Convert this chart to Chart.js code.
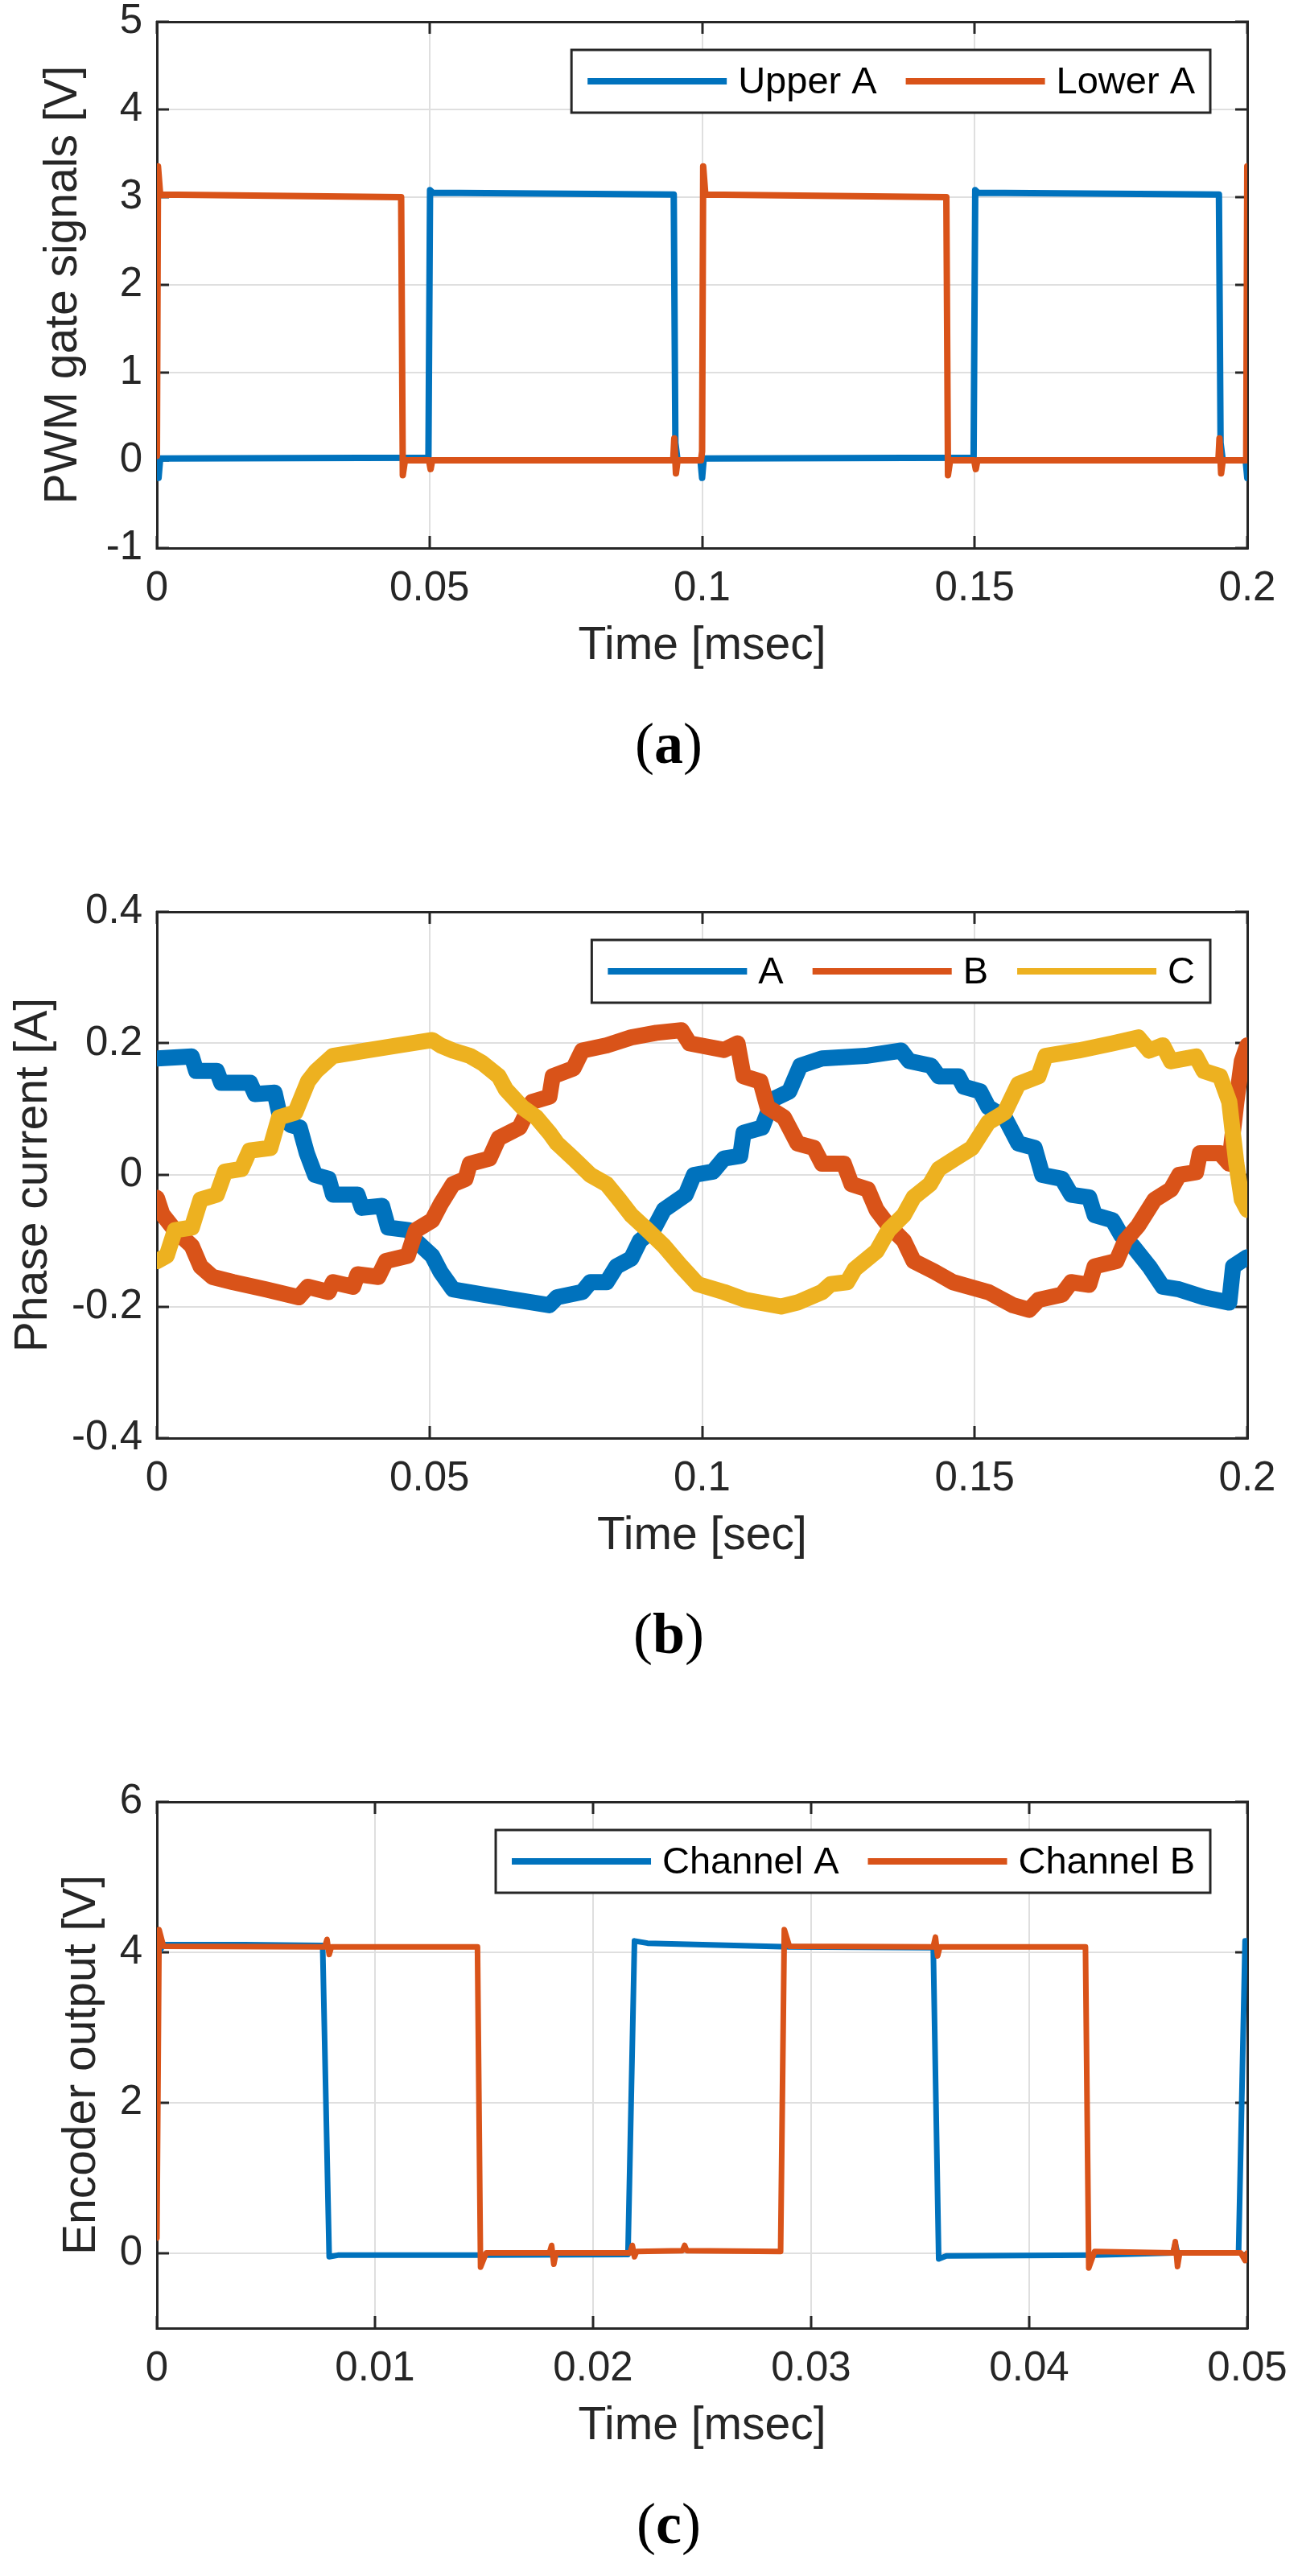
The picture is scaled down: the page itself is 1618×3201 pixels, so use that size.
<!DOCTYPE html>
<html>
<head>
<meta charset="utf-8">
<title>PWM gate signals, phase currents and encoder output</title>
<script src="https://cdn.jsdelivr.net/npm/chart.js@4.4.1/dist/chart.umd.min.js"></script>
<style>
  html, body { margin: 0; padding: 0; background: #fff; }
  body { position: relative; width: 1618px; height: 3201px; overflow: hidden; }
  .panel { position: absolute; left: 0; width: 1618px; height: 870px; }
  .caption { position: absolute; left: 631px; width: 400px; text-align: center;
             font: 72px 'Liberation Serif', 'DejaVu Serif', serif; line-height: 1; color: #000; }
</style>
</head>
<body>
<canvas id="gateChart" class="panel" width="1618" height="870" style="top:0px"></canvas>
<div class="caption" style="top:888px">(<b>a</b>)</div>
<canvas id="currentChart" class="panel" width="1618" height="870" style="top:1106px"></canvas>
<div class="caption" style="top:1994px">(<b>b</b>)</div>
<canvas id="encoderChart" class="panel" width="1618" height="870" style="top:2212px"></canvas>
<div class="caption" style="top:3100px">(<b>c</b>)</div>

<script>
const BLUE = '#0072BD';
const ORANGE = '#D95319';
const YELLOW = '#EDB120';
const INK = '#262626';

// (a) PWM gate signals
const gateTicksX = [0, 0.05, 0.1, 0.15, 0.2];
const gateTickLabelsX = ['0', '0.05', '0.1', '0.15', '0.2'];
const gateTicksY = [-1, 0, 1, 2, 3, 4, 5];
const gateTickLabelsY = ['-1', '0', '1', '2', '3', '4', '5'];
const upperA_t = [0, 0.0003, 0.0006, 0.0498, 0.0501, 0.0506, 0.0948, 0.0951, 0.0955, 0.0997, 0.1, 0.1003,
                  0.1498, 0.1501, 0.1506, 0.1948, 0.1951, 0.1955, 0.1997, 0.2];
const upperA_v = [0, -0.2, 0.02, 0.03, 3.08, 3.05, 3.03, 0.2, 0.0, 0.0, -0.2, 0.02,
                  0.03, 3.08, 3.05, 3.03, 0.2, 0.0, 0.0, -0.2];
const lowerA_t = [0, 0.0002, 0.0006, 0.0448, 0.0451, 0.0455, 0.0499, 0.0502, 0.0505, 0.0947, 0.0949, 0.0952,
                  0.0955, 0.0998, 0.1, 0.1002, 0.1006, 0.1448, 0.1451, 0.1455, 0.1499, 0.1502, 0.1505,
                  0.1947, 0.1949, 0.1952, 0.1955, 0.1998, 0.2];
const lowerA_v = [0.05, 3.35, 3.03, 3.0, -0.17, 0.0, 0.0, -0.1, 0.0, 0.0, 0.25, -0.15,
                  0.0, 0.0, 0.1, 3.35, 3.03, 3.0, -0.17, 0.0, 0.0, -0.1, 0.0,
                  0.0, 0.25, -0.15, 0.0, 0.0, 3.35];

// (b) phase currents
const currentTicksX = [0, 0.05, 0.1, 0.15, 0.2];
const currentTickLabelsX = ['0', '0.05', '0.1', '0.15', '0.2'];
const currentTicksY = [-0.4, -0.2, 0, 0.2, 0.4];
const currentTickLabelsY = ['-0.4', '-0.2', '0', '0.2', '0.4'];
const phaseA_t = [0, 0.0064, 0.0072, 0.011, 0.0118, 0.0171, 0.018, 0.0216, 0.0224, 0.0245, 0.0262, 0.0275,
                  0.029, 0.0315, 0.0323, 0.0368, 0.0376, 0.0413, 0.0424, 0.0462, 0.0475, 0.0505, 0.052,
                  0.0543, 0.06, 0.066, 0.072, 0.0734, 0.078, 0.0795, 0.0825, 0.0843, 0.087, 0.0886,
                  0.091, 0.093, 0.097, 0.0985, 0.102, 0.104, 0.107, 0.1076, 0.111, 0.113, 0.116, 0.118,
                  0.122, 0.13, 0.1365, 0.138, 0.142, 0.1434, 0.147, 0.148, 0.151, 0.1525, 0.1555, 0.158,
                  0.161, 0.1624, 0.166, 0.1677, 0.171, 0.172, 0.1753, 0.1769, 0.179, 0.182, 0.1845,
                  0.1875, 0.192, 0.1967, 0.1974, 0.2];
const phaseA_i = [0.177, 0.18, 0.158, 0.158, 0.14, 0.14, 0.123, 0.125, 0.095, 0.076, 0.072, 0.033,
                  0.0, -0.006, -0.03, -0.03, -0.05, -0.047, -0.08, -0.084, -0.1, -0.123, -0.147,
                  -0.174, -0.182, -0.19, -0.198, -0.186, -0.178, -0.163, -0.163, -0.139, -0.127, -0.1,
                  -0.084, -0.053, -0.03, 0.0, 0.005, 0.025, 0.029, 0.064, 0.072, 0.115, 0.127, 0.166,
                  0.177, 0.181, 0.189, 0.173, 0.166, 0.15, 0.15, 0.134, 0.127, 0.103, 0.0875, 0.048,
                  0.041, 0.0, -0.006, -0.03, -0.034, -0.061, -0.069, -0.092, -0.108, -0.139, -0.17,
                  -0.174, -0.186, -0.194, -0.139, -0.125];
const phaseB_t = [0, 0.001, 0.0033, 0.0064, 0.008, 0.0102, 0.014, 0.02, 0.026, 0.0277, 0.0315, 0.0323,
                  0.036, 0.0368, 0.0406, 0.042, 0.046, 0.0475, 0.0505, 0.052, 0.0543, 0.0566, 0.0574,
                  0.061, 0.0627, 0.0665, 0.0688, 0.072, 0.0726, 0.0764, 0.078, 0.0825, 0.087, 0.0916,
                  0.0962, 0.0977, 0.104, 0.1065, 0.1076, 0.1107, 0.112, 0.115, 0.1175, 0.1205, 0.122,
                  0.126, 0.1274, 0.1304, 0.132, 0.1342, 0.137, 0.1388, 0.1426, 0.146, 0.1525, 0.157,
                  0.16, 0.1617, 0.166, 0.1677, 0.171, 0.172, 0.176, 0.1776, 0.18, 0.183, 0.186, 0.1875,
                  0.1906, 0.1913, 0.195, 0.1967, 0.198, 0.199, 0.2];
const phaseB_i = [-0.035, -0.06, -0.084, -0.108, -0.139, -0.155, -0.163, -0.174, -0.186, -0.17, -0.178, -0.163,
                  -0.17, -0.151, -0.155, -0.131, -0.123, -0.084, -0.069, -0.045, -0.014, -0.006, 0.017,
                  0.025, 0.056, 0.072, 0.111, 0.119, 0.15, 0.162, 0.189, 0.197, 0.209, 0.216,
                  0.22, 0.2, 0.19, 0.2, 0.15, 0.142, 0.103, 0.0875, 0.048, 0.041, 0.017,
                  0.017, -0.014, -0.022, -0.053, -0.077, -0.1, -0.131, -0.147, -0.163, -0.178, -0.198,
                  -0.205, -0.19, -0.182, -0.163, -0.167, -0.139, -0.131, -0.1, -0.077, -0.0375, -0.022, 0.0,
                  0.004, 0.033, 0.033, 0.017, 0.111, 0.173, 0.197];
const phaseC_t = [0, 0.0018, 0.0033, 0.0064, 0.008, 0.011, 0.0125, 0.0155, 0.017, 0.0208, 0.0224, 0.0254,
                  0.0277, 0.0292, 0.0323, 0.0384, 0.0444, 0.0505, 0.052, 0.0543, 0.0574, 0.0597, 0.0627,
                  0.064, 0.067, 0.0696, 0.072, 0.0734, 0.0764, 0.0795, 0.0825, 0.0848, 0.087, 0.09,
                  0.093, 0.0962, 0.0992, 0.104, 0.108, 0.1145, 0.1175, 0.122, 0.1236, 0.1266, 0.128,
                  0.132, 0.1342, 0.137, 0.1388, 0.1418, 0.1434, 0.1464, 0.1495, 0.1525, 0.1555, 0.158,
                  0.1617, 0.163, 0.169, 0.1753, 0.18, 0.182, 0.1845, 0.186, 0.1906, 0.192, 0.195,
                  0.1967, 0.198, 0.199, 0.2];
const phaseC_i = [-0.131, -0.123, -0.084, -0.08, -0.0375, -0.03, 0.005, 0.009, 0.037, 0.041, 0.0875, 0.095,
                  0.142, 0.158, 0.181, 0.189, 0.197, 0.205, 0.197, 0.189, 0.181, 0.17, 0.15,
                  0.13, 0.103, 0.0875, 0.064, 0.048, 0.025, 0.0, -0.014, -0.0375, -0.061, -0.084,
                  -0.108, -0.139, -0.166, -0.178, -0.19, -0.2, -0.194, -0.178, -0.166, -0.163, -0.143,
                  -0.116, -0.084, -0.061, -0.034, -0.014, 0.009, 0.025, 0.041, 0.08, 0.095, 0.138,
                  0.15, 0.181, 0.189, 0.2, 0.209, 0.189, 0.197, 0.173, 0.18, 0.158, 0.15,
                  0.111, 0.017, -0.0375, -0.053];

// (c) encoder output
const encoderTicksX = [0, 0.01, 0.02, 0.03, 0.04, 0.05];
const encoderTickLabelsX = ['0', '0.01', '0.02', '0.03', '0.04', '0.05'];
const encoderTicksY = [0, 2, 4, 6];
const encoderTickLabelsY = ['0', '2', '4', '6'];
const channelA_t = [0, 0.0003, 0.004, 0.0076, 0.0079, 0.0083, 0.0147, 0.0216, 0.0219, 0.0225, 0.029,
                    0.0356, 0.03585, 0.0362, 0.043, 0.0466, 0.0467, 0.0468, 0.0496, 0.0499, 0.05];
const channelA_v = [3.95, 4.1, 4.1, 4.09, -0.05, -0.03, -0.03, -0.02, 4.15, 4.12, 4.07,
                    4.06, -0.08, -0.04, -0.03, 0.0, 0.12, 0.0, 0.0, 4.15, 4.15];
const channelB_t = [0, 0.0001, 0.0003, 0.0077, 0.0078, 0.0079, 0.008, 0.0147, 0.01484, 0.0151, 0.018,
                    0.0181, 0.0182, 0.0183, 0.0217, 0.0218, 0.0219, 0.022, 0.0241, 0.0242, 0.0243, 0.0286,
                    0.02877, 0.029, 0.0356, 0.0357, 0.0358, 0.0359, 0.04258, 0.04273, 0.043, 0.0466,
                    0.0467, 0.0468, 0.0469, 0.0497, 0.0499, 0.05];
const channelB_v = [0.2, 4.3, 4.08, 4.07, 4.17, 3.97, 4.07, 4.07, -0.19, 0.0, 0.0,
                    0.1, -0.15, 0.0, 0.0, 0.1, -0.05, 0.02, 0.03, 0.1, 0.03, 0.02,
                    4.3, 4.08, 4.07, 4.2, 3.95, 4.07, 4.07, -0.2, 0.02, 0.0,
                    0.15, -0.18, 0.0, 0.0, -0.1, 0.0];

Chart.defaults.font.family = "'Liberation Sans', Arial, Helvetica, sans-serif";
Chart.defaults.color = INK;

function pts(ts, vs) {
  return ts.map((t, i) => ({ x: t, y: vs[i] }));
}

function fixedTicks(values) {
  return scale => { scale.ticks = values.map(v => ({ value: v })); };
}

// MATLAB-style legend: framed box inside the top right of the axes
const boxedLegend = {
  id: 'boxedLegend',
  afterDatasetsDraw(chart, args, o) {
    const { ctx, chartArea } = chart;
    const items = chart.data.datasets;
    ctx.save();
    ctx.font = o.fontSize + 'px ' + Chart.defaults.font.family;
    const widths = items.map(d => ctx.measureText(d.label).width);
    const total = o.padLeft + o.padRight + items.length * (o.lineLength + o.lineGap)
      + widths.reduce((a, b) => a + b, 0) + (items.length - 1) * o.itemGap;
    const left = chartArea.right - o.offsetRight - total;
    const top = chartArea.top + o.offsetTop;
    ctx.fillStyle = '#fff';
    ctx.fillRect(left, top, total, o.height);
    ctx.lineWidth = 3;
    ctx.strokeStyle = INK;
    ctx.strokeRect(left, top, total, o.height);
    const mid = top + o.height / 2;
    let x = left + o.padLeft;
    ctx.textBaseline = 'middle';
    ctx.textAlign = 'left';
    items.forEach((d, i) => {
      ctx.strokeStyle = d.borderColor;
      ctx.lineWidth = 8;
      ctx.beginPath();
      ctx.moveTo(x, mid);
      ctx.lineTo(x + o.lineLength, mid);
      ctx.stroke();
      x += o.lineLength + o.lineGap;
      ctx.fillStyle = '#000';
      ctx.fillText(d.label, x, mid + 2);
      x += widths[i] + o.itemGap;
    });
    ctx.restore();
  }
};

function makeChart(id, c) {
  const grid = { color: '#dfdfdf', lineWidth: 2, tickLength: -15, tickWidth: 3, tickColor: INK };
  const border = { display: true, color: INK, width: 3 };
  const xRange = { type: 'linear', min: c.xTicks[0], max: c.xTicks[c.xTicks.length - 1] };
  const yRange = { type: 'linear', min: c.yMin, max: c.yMax };

  return new Chart(document.getElementById(id), {
    type: 'line',
    data: {
      datasets: c.series.map((s, i) => ({
        label: s.label,
        data: pts(s.t, s.v),
        borderColor: s.color,
        backgroundColor: s.color,
        borderWidth: c.lineWidth,
        borderJoinStyle: 'round',
        borderCapStyle: 'round',
        pointRadius: 0,
        tension: 0,
        fill: false,
        order: c.series.length - i
      }))
    },
    options: {
      responsive: false,
      animation: false,
      events: [],
      layout: { padding: { left: 0, top: 27, right: 68, bottom: 0 } },
      plugins: {
        legend: { display: false },
        tooltip: { enabled: false },
        boxedLegend: {
          fontSize: 47, height: 78, offsetTop: 35, offsetRight: 46,
          padLeft: 20, padRight: 19, lineLength: 173, lineGap: 14, itemGap: 36
        }
      },
      scales: {
        x: {
          ...xRange,
          position: 'bottom',
          afterBuildTicks: fixedTicks(c.xTicks),
          ticks: { autoSkip: false, maxRotation: 0, padding: 35, font: { size: 51 },
                   callback: (v, i) => c.xLabels[i] },
          grid, border,
          title: { display: true, text: c.xTitle, font: { size: 57 }, padding: { top: 0, bottom: 33 } },
          afterFit: s => { s.height = 189; s.paddingLeft = 0; s.paddingRight = 0; }
        },
        xTop: {
          ...xRange,
          position: 'top',
          display: true,
          afterBuildTicks: fixedTicks(c.xTicks),
          ticks: { display: false },
          grid: { ...grid, drawOnChartArea: false },
          border,
          afterFit: s => { s.height = 0; s.paddingLeft = 0; s.paddingRight = 0; }
        },
        y: {
          ...yRange,
          position: 'left',
          afterBuildTicks: fixedTicks(c.yTicks),
          ticks: { autoSkip: false, padding: 33, font: { size: 51 },
                   callback: (v, i) => c.yLabels[i] },
          grid, border,
          title: { display: true, text: c.yTitle, font: { size: 57 }, padding: { top: c.yTitlePad, bottom: 0 } },
          afterFit: s => { s.width = 195; s.paddingTop = 0; s.paddingBottom = 0; }
        },
        yRight: {
          ...yRange,
          position: 'right',
          display: true,
          afterBuildTicks: fixedTicks(c.yTicks),
          ticks: { display: false },
          grid: { ...grid, drawOnChartArea: false },
          border,
          afterFit: s => { s.width = 0; s.paddingTop = 0; s.paddingBottom = 0; }
        }
      }
    },
    plugins: [boxedLegend]
  });
}

makeChart('gateChart', {
  xTicks: gateTicksX, xLabels: gateTickLabelsX,
  yTicks: gateTicksY, yLabels: gateTickLabelsY, yMin: -1, yMax: 5,
  xTitle: 'Time [msec]', yTitle: 'PWM gate signals [V]', yTitlePad: 45,
  lineWidth: 8,
  series: [
    { label: 'Upper A', t: upperA_t, v: upperA_v, color: BLUE },
    { label: 'Lower A', t: lowerA_t, v: lowerA_v, color: ORANGE }
  ]
});

makeChart('currentChart', {
  xTicks: currentTicksX, xLabels: currentTickLabelsX,
  yTicks: currentTicksY, yLabels: currentTickLabelsY, yMin: -0.4, yMax: 0.4,
  xTitle: 'Time [sec]', yTitle: 'Phase current [A]', yTitlePad: 8,
  lineWidth: 20,
  series: [
    { label: 'A', t: phaseA_t, v: phaseA_i, color: BLUE },
    { label: 'B', t: phaseB_t, v: phaseB_i, color: ORANGE },
    { label: 'C', t: phaseC_t, v: phaseC_i, color: YELLOW }
  ]
});

makeChart('encoderChart', {
  xTicks: encoderTicksX, xLabels: encoderTickLabelsX,
  yTicks: encoderTicksY, yLabels: encoderTickLabelsY, yMin: -1, yMax: 6,
  xTitle: 'Time [msec]', yTitle: 'Encoder output [V]', yTitlePad: 68,
  lineWidth: 7,
  series: [
    { label: 'Channel A', t: channelA_t, v: channelA_v, color: BLUE },
    { label: 'Channel B', t: channelB_t, v: channelB_v, color: ORANGE }
  ]
});
</script>
</body>
</html>
